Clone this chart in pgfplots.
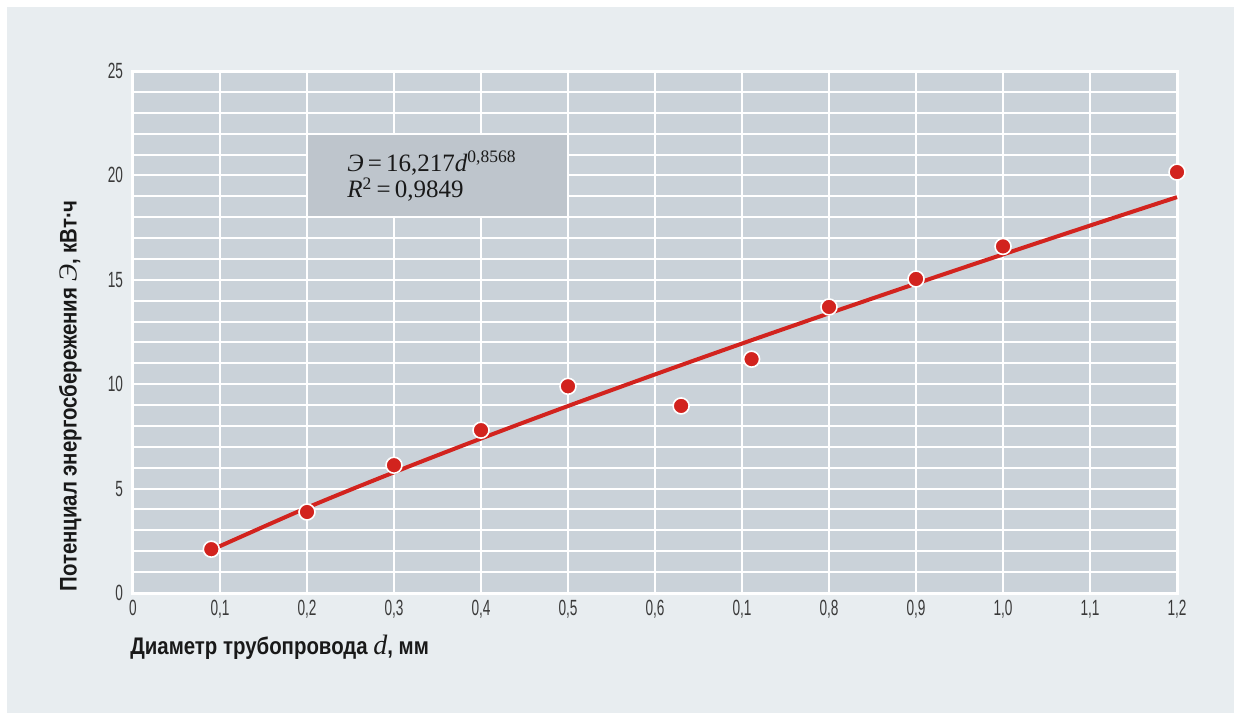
\documentclass[border=0pt]{standalone}
\usepackage{fontspec}
\setmainfont{Liberation Sans}
\newfontfamily\tickfont[FakeStretch=0.62]{Liberation Sans}
\newfontfamily\labfont[FakeStretch=0.85]{Liberation Sans Bold}
\newfontfamily\serifit{Liberation Serif Italic}
\newfontfamily\serifrm{Liberation Serif}
\usepackage{pgfplots}
\pgfplotsset{compat=1.18}
\definecolor{panel}{HTML}{E8EDF0}
\definecolor{plotbg}{HTML}{CAD2D9}
\definecolor{boxgray}{HTML}{BEC5CC}
\definecolor{dred}{HTML}{D2231E}
\definecolor{tickgray}{HTML}{3A3A3A}
\begin{document}
\begin{tikzpicture}
\fill[white] (-66.5pt,-60pt) rectangle (550.5pt,296.5pt);
\fill[panel] (-63pt,-60pt) rectangle (550.5pt,293pt);
\begin{axis}[
  at={(0,0)}, anchor=south west,
  scale only axis, width=522pt, height=261pt,
  xmin=0, xmax=1.2, ymin=0, ymax=25,
  axis background/.style={fill=plotbg},
  axis line style={white, line width=1.5pt},
  major tick length=0pt, minor tick length=0pt,
  xtick={0,0.1,...,1.2},
  xticklabels={0,{0,1},{0,2},{0,3},{0,4},{0,5},{0,6},{0,1},{0,8},{0,9},{1,0},{1,1},{1,2}},
  ytick={0,5,10,15,20,25},
  yticklabels={0,5,10,15,20,25},
  minor y tick num=4,
  grid=both,
  major grid style={white, line width=1pt},
  minor grid style={white, line width=1pt},
  tick label style={font=\tickfont\fontsize{11}{13}\selectfont, text=tickgray},
  yticklabel style={xshift=-1.5pt},
  clip=false,
]
\fill[boxgray] ([xshift=0.5pt,yshift=0.5pt]axis cs:0.2,18) rectangle ([xshift=-0.5pt,yshift=-0.5pt]axis cs:0.5,22);
\node[anchor=base west, font=\serifrm\fontsize{12.5}{14}\selectfont, inner sep=0pt, text=black!90] at (axis cs:0.246,20.2)
  {{\serifit Э}\,=\,16,217{\serifit d}\textsuperscript{0,8568}};
\node[anchor=base west, font=\serifrm\fontsize{12.5}{14}\selectfont, inner sep=0pt, text=black!90] at (axis cs:0.246,18.92)
  {{\serifit R}\textsuperscript{2}\,=\,0,9849};
\addplot[dred, line width=2pt, smooth] coordinates {
 (0.09,2.060) (0.2,4.085) (0.3,5.780) (0.4,7.397) (0.5,8.955) (0.6,10.468)
 (0.7,11.947) (0.8,13.395) (0.9,14.818) (1.0,16.217) (1.1,17.597) (1.2,18.959)};
\addplot[only marks, mark=*, mark size=4pt, mark options={fill=dred, draw=white, line width=0.8pt}] coordinates {
 (0.09,2.1) (0.2,3.88) (0.3,6.12) (0.4,7.8) (0.5,9.9) (0.63,8.96) (0.711,11.2)
 (0.8,13.7) (0.9,15.04) (1.0,16.6) (1.2,20.16)};
\node[rotate=90, anchor=south west, inner sep=0pt, font=\labfont\fontsize{12}{14}\selectfont, text=black!90] at ([xshift=-25.5pt,yshift=0.5pt]axis cs:0,0)
  {Потенциал энергосбережения {\serifit\mdseries\fontsize{13}{14}\selectfont Э}, кВт·ч};
\node[anchor=base west, inner sep=0pt, font=\labfont\fontsize{12}{14}\selectfont, text=black!90] at ([xshift=-1.5pt,yshift=-30.5pt]axis cs:0,0)
  {Диаметр трубопровода {\serifit\mdseries\fontsize{14}{14}\selectfont d}, мм};
\end{axis}
\pgfresetboundingbox
\path[use as bounding box] (-66.5pt,-60pt) rectangle (550.5pt,296.5pt);
\end{tikzpicture}
\end{document}
